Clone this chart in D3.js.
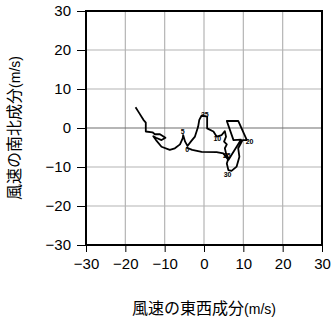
<!DOCTYPE html>
<html>
<head>
<meta charset="utf-8">
<script src="https://cdn.jsdelivr.net/npm/d3@7"></script>
<style>
  body { margin: 0; background: #fff; }
  svg { display: block; }
</style>
</head>
<body>
<div id="chart"></div>
<script>
// wind components along the profile (m/s)
const windU = [-17.4, -16.7, -15.4, -14.8, -14.8, -13.1, -12.5, -11.2, -9.8, -10.8, -12.2, -12.9, -12.2,
    -10.8, -8.7, -7.4, -6.1, -5.4, -5.3, -4.8, -4.2, -3.2, -2.3, -1.5, -1.2, -0.6, 0.8, 0.8, 2.4,
    3.2, 4.5, 5.3, 5.6, 5.1, 5.8, 5.3, 5.6, 6.2, 5.8, 6.2, 7.0, 8.3, 9.0, 8.7, 9.8, 10.9, 8.7,
    5.8, 7.5, 9.4, 6.2, 4.9, 3.2, -0.6, -3.0, -4.5];
const windV = [5.3, 4.2, 2.1, 1.4, -0.9, -1.1, -1.6, -1.6, -2.5, -3.1, -2.5, -2.1, -3.1,
    -4.8, -5.6, -5.2, -4.2, -2.6, -1.8, -3.5, -4.6, -3.3, -2.2, 0.3, 2.1, 3.2, 2.9, -0.1, -0.9,
    -2.2, -1.8, -0.8, -2.2, -3.5, -4.2, -5.2, -6.5, -7.8, -9.1, -10.8, -11.0, -9.9, -7.4, -5.2, -3.1, -3.1, 1.8,
    1.8, -3.1, -3.0, -8.2, -6.5, -6.2, -6.1, -5.6, -5.0];

// height labels along the curve
const labelText = ['5', '35', '10', '20', '25', '30', '0'];
const labelU = [-5.4, 0.2, 3.4, 11.6, 5.8, 6.0, -4.3];
const labelV = [-1.0, 3.4, -2.6, -3.6, -7.0, -12.0, -5.6];

const ticks = [-30, -20, -10, 0, 10, 20, 30];

const width = 332;
const height = 319;
const margin = {top: 11, right: 10, bottom: 74, left: 86};

const svg = d3.select('#chart')
    .append('svg')
    .attr('width', width)
    .attr('height', height);

const x = d3.scaleLinear()
    .domain([-30, 30])
    .range([margin.left, width - margin.right]);
const y = d3.scaleLinear()
    .domain([-30, 30])
    .range([height - margin.bottom, margin.top]);

const fmt = d => d < 0 ? '\u2212' + Math.abs(d) : String(d);

//grid
const grid = svg.append('g');
grid.selectAll('.gx')
    .data(ticks.slice(1, -1))
    .join('line')
    .attr('x1', d => x(d)).attr('x2', d => x(d))
    .attr('y1', y(-30)).attr('y2', y(30))
    .attr('stroke', '#b4b4b4')
    .attr('stroke-width', 1.2);
grid.selectAll('.gy')
    .data(ticks.slice(1, -1))
    .join('line')
    .attr('y1', d => y(d)).attr('y2', d => y(d))
    .attr('x1', x(-30)).attr('x2', x(30))
    .attr('stroke', d => d === 0 ? '#6e6e6e' : '#b4b4b4')
    .attr('stroke-width', 1.2);

//axes
const xAxis = svg.append('g')
    .attr('transform', `translate(0,${y(-30)})`)
    .call(d3.axisBottom(x).tickValues(ticks).tickSize(7).tickPadding(6).tickFormat(fmt));
const yAxis = svg.append('g')
    .attr('transform', `translate(${x(-30)},0)`)
    .call(d3.axisLeft(y).tickValues(ticks).tickSize(9).tickPadding(6).tickFormat(fmt));
[xAxis, yAxis].forEach(g => {
    g.select('.domain').remove();
    g.selectAll('line').attr('stroke', '#000').attr('stroke-width', 1);
    g.selectAll('text')
        .style('font-family', '"Liberation Sans", Arial, sans-serif')
        .style('font-size', '15px')
        .attr('fill', '#000');
});

//frame
svg.append('rect')
    .attr('x', x(-30)).attr('y', y(30))
    .attr('width', x(30) - x(-30))
    .attr('height', y(-30) - y(30))
    .attr('fill', 'none')
    .attr('stroke', '#000')
    .attr('stroke-width', 2);

//hodograph
const pts = windU.map((u, i) => [u, windV[i]]);
svg.append('path')
    .datum(pts)
    .attr('d', d3.line().x(d => x(d[0])).y(d => y(d[1])))
    .attr('fill', 'none')
    .attr('stroke', '#000')
    .attr('stroke-width', 1.8)
    .attr('stroke-linejoin', 'round');

svg.append('g')
    .selectAll('text')
    .data(labelText)
    .join('text')
    .attr('x', (d, i) => x(labelU[i]))
    .attr('y', (d, i) => y(labelV[i]))
    .attr('text-anchor', 'middle')
    .attr('dy', '0.35em')
    .style('font-family', '"Liberation Sans", Arial, sans-serif')
    .style('font-size', '7px')
    .style('font-weight', 'bold')
    .text(d => d);

//labels
const jp = '"Noto Sans CJK JP", sans-serif';
const lat = '"Liberation Sans", Arial, sans-serif';
const xLabel = svg.append('text')
    .attr('x', (x(-30) + x(30)) / 2)
    .attr('y', 314)
    .attr('text-anchor', 'middle')
    .attr('fill', '#000');
xLabel.append('tspan').style('font-family', jp).style('font-size', '16px').text('風速の東西成分');
xLabel.append('tspan').style('font-family', lat).style('font-size', '14px').text('(m/s)');

const yLabel = svg.append('text')
    .attr('transform', `translate(20,${(y(-30) + y(30)) / 2}) rotate(-90)`)
    .attr('text-anchor', 'middle')
    .attr('fill', '#000');
yLabel.append('tspan').style('font-family', jp).style('font-size', '16px').text('風速の南北成分');
yLabel.append('tspan').style('font-family', lat).style('font-size', '14px').text('(m/s)');
</script>
</body>
</html>
